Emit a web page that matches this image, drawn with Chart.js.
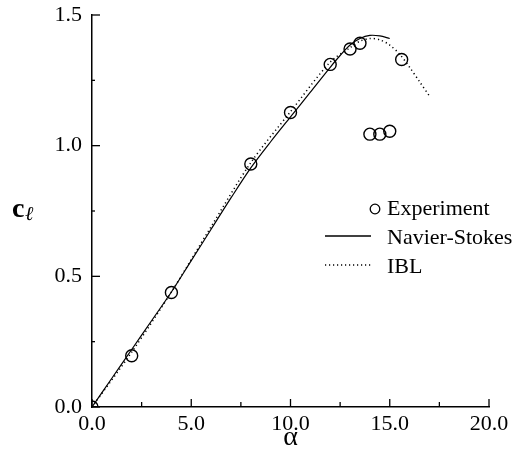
<!DOCTYPE html>
<html>
<head>
<meta charset="utf-8">
<script src="https://cdn.jsdelivr.net/npm/chart.js@4"></script>
<style>
  html, body { margin: 0; padding: 0; background: #fff; }
  #wrap { width: 518px; height: 468px; }
</style>
</head>
<body>
<div id="wrap"><canvas id="clChart" width="518" height="468"></canvas></div>
<script>
// Experiment (circles)
var expAlpha = [0, 2, 4, 8, 10, 12, 13, 13.5, 14, 14.5, 15, 15.6];
var expCl    = [0, 0.196, 0.438, 0.93, 1.127, 1.311, 1.37, 1.392, 1.044, 1.044, 1.055, 1.33];

// Navier-Stokes (solid)
var nsAlpha = [0, 1, 2, 3, 4, 5, 6, 7, 8, 9, 10, 11, 12, 12.5, 13, 13.5, 14, 14.5, 15];
var nsCl    = [0, 0.11, 0.22, 0.33, 0.44, 0.56, 0.68, 0.80, 0.915, 1.015, 1.11, 1.205, 1.30, 1.345, 1.385, 1.41, 1.422, 1.42, 1.41];

// IBL (dotted)
var iblAlpha = [0, 2, 4, 6, 8, 10, 12, 13, 13.5, 14, 14.5, 15, 15.5, 16, 16.5, 17];
var iblCl    = [0, 0.21, 0.44, 0.69, 0.935, 1.13, 1.32, 1.375, 1.40, 1.41, 1.405, 1.385, 1.35, 1.30, 1.245, 1.19];

var xTicks = [0, 5, 10, 15, 20];
var yTicks = [0, 0.5, 1.0, 1.5];

function pts(xs, ys) {
    return xs.map((x, i) => ({ x: x, y: ys[i] }));
}

var serif = "'Liberation Serif', 'Times New Roman', serif";

// inward tick marks on the left and bottom axes
var innerTicks = {
    id: 'innerTicks',
    afterDraw(chart) {
        var ctx = chart.ctx;
        var xs = chart.scales.x, ys = chart.scales.y;
        var area = chart.chartArea;
        ctx.save();
        ctx.strokeStyle = '#000';
        ctx.lineWidth = 1.3;
        for (var a = 0; a <= 20; a += 2.5) {
            var px = xs.getPixelForValue(a);
            var len = (a % 5 === 0) ? 8 : 5;
            ctx.beginPath();
            ctx.moveTo(px, area.bottom);
            ctx.lineTo(px, area.bottom - len);
            ctx.stroke();
        }
        for (var c = 0; c <= 1.5001; c += 0.25) {
            var py = ys.getPixelForValue(c);
            var l = (Math.abs(c * 2 - Math.round(c * 2)) < 1e-6) ? 8 : 3;
            ctx.beginPath();
            ctx.moveTo(area.left, py);
            ctx.lineTo(area.left + l, py);
            ctx.stroke();
        }
        ctx.restore();
    }
};

// y axis title (c with script-l subscript) and the legend block
var labels = {
    id: 'labels',
    afterDraw(chart) {
        var ctx = chart.ctx;
        ctx.save();
        ctx.fillStyle = '#000';
        ctx.textBaseline = 'alphabetic';
        ctx.font = 'bold 28px ' + serif;
        ctx.fillText('c', 12, 217);
        ctx.font = 'italic 20px ' + serif;
        ctx.fillText('ℓ', 25, 220);

        ctx.font = '22px ' + serif;
        ctx.textBaseline = 'middle';
        var tx = 387;
        ctx.fillText('Experiment', tx, 209);
        ctx.fillText('Navier-Stokes', tx, 238);
        ctx.fillText('IBL', tx, 267);

        ctx.strokeStyle = '#000';
        ctx.lineWidth = 1.3;
        ctx.beginPath();
        ctx.arc(375, 209, 4.8, 0, Math.PI * 2);
        ctx.stroke();

        ctx.beginPath();
        ctx.moveTo(325, 236);
        ctx.lineTo(371, 236);
        ctx.stroke();

        ctx.setLineDash([1.2, 2.8]);
        ctx.beginPath();
        ctx.moveTo(325, 265);
        ctx.lineTo(371, 265);
        ctx.stroke();
        ctx.restore();
    }
};

var ctx = document.getElementById('clChart').getContext('2d');
var chart = new Chart(ctx, {
    type: 'scatter',
    data: {
        datasets: [
            {
                label: 'Navier-Stokes',
                data: pts(nsAlpha, nsCl),
                showLine: true,
                borderColor: '#000',
                borderWidth: 1.2,
                pointRadius: 0,
                tension: 0.3,
                fill: false
            },
            {
                label: 'IBL',
                data: pts(iblAlpha, iblCl),
                showLine: true,
                borderColor: '#000',
                borderWidth: 1.5,
                borderDash: [1.2, 3],
                pointRadius: 0,
                tension: 0.3,
                fill: false
            },
            {
                label: 'Experiment',
                data: pts(expAlpha, expCl),
                showLine: false,
                borderColor: '#000',
                backgroundColor: 'rgba(0,0,0,0)',
                borderWidth: 1.4,
                pointRadius: 6,
                pointStyle: 'circle'
            }
        ]
    },
    options: {
        responsive: false,
        animation: false,
        layout: { padding: { top: 15, right: 29, left: 0, bottom: 0 } },
        plugins: {
            legend: { display: false },
            tooltip: { enabled: false }
        },
        scales: {
            x: {
                type: 'linear',
                min: 0,
                max: 20,
                afterBuildTicks: s => { s.ticks = xTicks.map(v => ({ value: v })); },
                afterFit: s => { s.height = 61; s.paddingLeft = 0; s.paddingRight = 0; },
                ticks: {
                    color: '#000',
                    padding: 4,
                    font: { family: serif, size: 22 },
                    callback: v => v.toFixed(1)
                },
                grid: { drawOnChartArea: false, drawTicks: false },
                border: { display: true, color: '#000', width: 1.5 },
                title: {
                    display: true,
                    text: 'α',
                    color: '#000',
                    padding: { top: 0, bottom: 14 },
                    font: { family: serif, size: 28 }
                }
            },
            y: {
                type: 'linear',
                min: 0,
                max: 1.5,
                afterBuildTicks: s => { s.ticks = yTicks.map(v => ({ value: v })); },
                afterFit: s => { s.width = 92; s.paddingTop = 0; s.paddingBottom = 0; },
                ticks: {
                    color: '#000',
                    padding: 10,
                    font: { family: serif, size: 22 },
                    callback: v => v.toFixed(1)
                },
                grid: { drawOnChartArea: false, drawTicks: false },
                border: { display: true, color: '#000', width: 1.5 }
            }
        }
    },
    plugins: [innerTicks, labels]
});
</script>
</body>
</html>
